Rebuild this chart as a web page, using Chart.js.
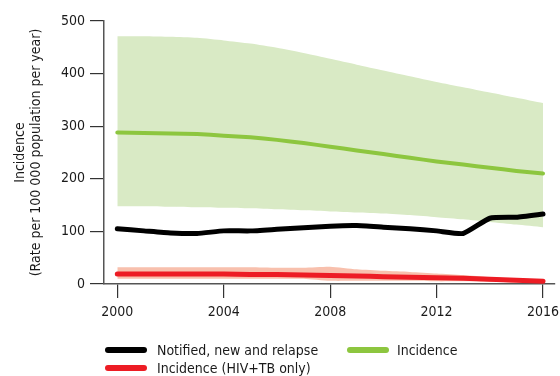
<!DOCTYPE html>
<html>
<head>
<meta charset="utf-8">
<script src="https://cdn.jsdelivr.net/npm/chart.js@4.4.1/dist/chart.umd.min.js"></script>
<style>
  html, body { margin: 0; padding: 0; background: #fff; }
  #wrap { position: relative; width: 560px; height: 376px; font-family: "DejaVu Sans Condensed", "Liberation Sans Narrow", sans-serif; }
  canvas { position: absolute; left: 0; top: 0; }
  .leg { position: absolute; font-size: 14px; color: #1a1a1a; line-height: 18px; white-space: nowrap; }
  .sw { position: absolute; width: 42px; height: 6px; border-radius: 3px; }
</style>
</head>
<body>
<div id="wrap">
  <canvas id="grafico" width="560" height="376"></canvas>
  <div class="sw" style="left:105px;top:347px;background:#000;"></div>
  <div class="leg" style="left:157px;top:341px;">Notified, new and relapse</div>
  <div class="sw" style="left:347px;top:347px;background:#8dc63f;"></div>
  <div class="leg" style="left:397px;top:341px;">Incidence</div>
  <div class="sw" style="left:105px;top:365px;background:#ed1c24;"></div>
  <div class="leg" style="left:157px;top:359px;">Incidence (HIV+TB only)</div>
</div>
<script>
// dados
const anos = [2000, 2001, 2002, 2003, 2004, 2005, 2006, 2007, 2008, 2009, 2010, 2011, 2012, 2013, 2014, 2015, 2016];
const notificados = [105, 101, 97, 96, 101, 101, 104, 107, 110, 111, 108, 105, 101, 96, 125, 127, 133];
const incidencia = [288, 287, 286, 285, 282, 279, 274, 268, 261, 254, 247, 240, 233, 227, 221, 215, 210];
const incidenciaSup = [471, 471, 470, 468, 463, 457, 449, 439, 428, 417, 406, 395, 384, 374, 364, 354, 344];
const incidenciaInf = [148, 148, 147, 146, 145, 144, 142, 140, 138, 136, 134, 131, 127, 123, 118, 113, 108];
const hivTb = [19, 19, 19, 19, 19, 18, 18, 17, 16, 15, 14, 13, 12, 11, 9, 7, 5];
const hivTbSup = [32, 32, 32, 32, 32, 32, 31, 31, 33, 28, 25, 23, 20, 17, 13, 10, 7];
const hivTbInf = [10, 10, 10, 10, 10, 10, 10, 10, 6, 6, 6, 6, 5, 5, 4, 3, 3];
const ticksX = [2000, 2004, 2008, 2012, 2016];
const ticksY = [0, 100, 200, 300, 400, 500];

const pontos = arr => arr.map((v, i) => ({ x: anos[i], y: v }));
const fonte = "'DejaVu Sans Condensed', 'Liberation Sans Narrow', sans-serif";

const faixa = (dados, cor, ordem) => ({
  data: pontos(dados), borderWidth: 0, pointRadius: 0, backgroundColor: cor, fill: '+1', order: ordem, tension: 0.2
});
const limite = (dados, ordem) => ({
  data: pontos(dados), borderWidth: 0, pointRadius: 0, fill: false, order: ordem, tension: 0.2
});
const linha = (dados, cor, larg) => ({
  data: pontos(dados), borderColor: cor, borderWidth: larg, pointRadius: 0, fill: false, order: 0,
  tension: 0.15, borderCapStyle: 'round', borderJoinStyle: 'round'
});

new Chart(document.getElementById('grafico'), {
  type: 'line',
  data: {
    datasets: [
      linha(notificados, '#000000', 5),
      linha(hivTb, '#ed1c24', 5),
      linha(incidencia, '#8dc63f', 4),
      faixa(incidenciaSup, '#d9eac5', 2),
      limite(incidenciaInf, 3),
      faixa(hivTbSup, '#f8c0ad', 2),
      limite(hivTbInf, 3)
    ]
  },
  options: {
    responsive: false,
    animation: false,
    layout: { padding: { top: 21, right: 5, left: 0, bottom: 0 } },
    plugins: { legend: { display: false }, tooltip: { enabled: false } },
    scales: {
      x: {
        type: 'linear', min: 1999.5, max: 2016.45,
        afterBuildTicks: s => { s.ticks = ticksX.map(v => ({ value: v })); },
        afterFit: s => { s.height = 92; s.paddingLeft = 0; s.paddingRight = 0; },
        grid: { drawOnChartArea: false, tickLength: 14, color: '#333', lineWidth: 1.2 },
        border: { color: '#555', width: 1.5 },
        ticks: { color: '#1a1a1a', font: { family: fonte, size: 14 }, padding: 6, maxRotation: 0, callback: v => String(v) }
      },
      y: {
        min: 0, max: 500,
        afterBuildTicks: s => { s.ticks = ticksY.map(v => ({ value: v })); },
        afterFit: s => { s.width = 104; },
        grid: { drawOnChartArea: false, tickLength: 14, color: '#333', lineWidth: 1.2 },
        border: { color: '#555', width: 1.5 },
        ticks: { color: '#1a1a1a', font: { family: fonte, size: 14 }, padding: 5 },
        title: {
          display: true, text: ['Incidence', '(Rate per 100 000 population per year)'],
          color: '#1a1a1a', font: { family: fonte, size: 14, lineHeight: 1.15 }, padding: { top: 12, bottom: 0 }
        }
      }
    }
  }
});
</script>
</body>
</html>
